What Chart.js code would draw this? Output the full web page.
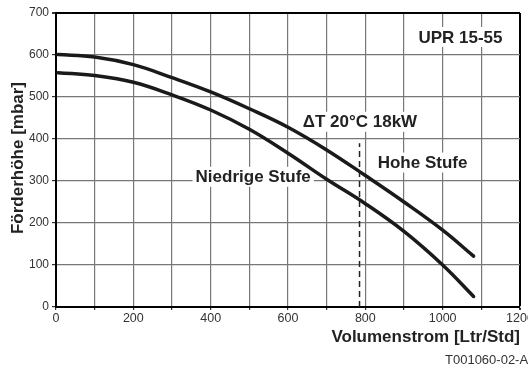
<!DOCTYPE html>
<html>
<head>
<meta charset="utf-8">
<script src="https://cdn.jsdelivr.net/npm/chart.js@4"></script>
<style>
  html, body { margin: 0; padding: 0; background: #fff; }
  #wrap { width: 528px; height: 369px; }
</style>
</head>
<body>
<div id="wrap"><canvas id="pumpChart" width="528" height="369"></canvas></div>
<script>
// flow [Ltr/Std] and head [mbar]
const flowHigh = [5, 100, 200, 300, 400, 500, 600, 700, 800, 900, 1000, 1080];
const headHigh = [601, 595, 577, 546, 512, 472, 428, 374, 313, 250, 183, 121];
const flowLow = [5, 100, 200, 300, 400, 500, 600, 700, 800, 900, 1000, 1080];
const headLow = [558, 551, 535, 505, 469, 423, 366, 304, 246, 180, 100, 25];

// design point marker (dT 20°C 18kW)
const designFlow = 785;
const designHead = [0, 390];

const xTickLabels = [0, 200, 400, 600, 800, 1000, 1200];
const yTickLabels = [0, 100, 200, 300, 400, 500, 600, 700];

// text notes placed in data units
const notes = [
  { text: "UPR 15-55", x: 1046, y: 643 },
  { text: "\u0394T 20\u00b0C 18kW", x: 786, y: 441 },
  { text: "Hohe Stufe", x: 948, y: 344 },
  { text: "Niedrige Stufe", x: 510, y: 310 },
];

const FONT = "'Liberation Sans', Arial, sans-serif";

const notesPlugin = {
  id: "notes",
  beforeDatasetsDraw(chart) {
    const ctx = chart.ctx;
    const xs = chart.scales.x;
    const ys = chart.scales.y;
    ctx.save();
    ctx.font = "bold 17px " + FONT;
    ctx.textAlign = "center";
    ctx.textBaseline = "middle";
    notes.forEach((n) => {
      const px = xs.getPixelForValue(n.x);
      const py = ys.getPixelForValue(n.y);
      const w = ctx.measureText(n.text).width;
      ctx.fillStyle = "#fff";
      ctx.fillRect(px - w / 2 - 3, py - 10, w + 6, 20);
      ctx.fillStyle = "#222";
      ctx.fillText(n.text, px, py + 1);
    });
    ctx.restore();
  },
  afterDraw(chart) {
    const ctx = chart.ctx;
    const area = chart.chartArea;
    ctx.save();
    ctx.fillStyle = "#222";
    ctx.font = "bold 17px " + FONT;
    // x axis title, right aligned to the frame
    ctx.textAlign = "right";
    ctx.textBaseline = "middle";
    ctx.fillText("Volumenstrom [Ltr/Std]", area.right, 337);
    // y axis title, rotated
    ctx.translate(18, (area.top + area.bottom) / 2 - 2);
    ctx.rotate(-Math.PI / 2);
    ctx.textAlign = "center";
    ctx.fillText("Förderhöhe [mbar]", 0, 0);
    ctx.restore();
    // drawing number, bottom right
    ctx.save();
    ctx.font = "13px " + FONT;
    ctx.textAlign = "left";
    ctx.textBaseline = "alphabetic";
    ctx.fillStyle = "#333";
    ctx.fillText("T001060-02-A", 445, 364);
    ctx.restore();
  },
};

const ctx = document.getElementById("pumpChart").getContext("2d");

new Chart(ctx, {
  type: "scatter",
  data: {
    datasets: [
      {
        label: "Hohe Stufe",
        data: flowHigh.map((f, i) => ({ x: f, y: headHigh[i] })),
        showLine: true,
        borderColor: "#1a1a1a",
        borderWidth: 3.5,
        borderCapStyle: "round",
        tension: 0.4,
        pointRadius: 0,
      },
      {
        label: "Niedrige Stufe",
        data: flowLow.map((f, i) => ({ x: f, y: headLow[i] })),
        showLine: true,
        borderColor: "#1a1a1a",
        borderWidth: 3.5,
        borderCapStyle: "round",
        tension: 0.4,
        pointRadius: 0,
      },
      {
        label: "Auslegung",
        data: designHead.map((h) => ({ x: designFlow, y: h })),
        showLine: true,
        borderColor: "#222",
        borderWidth: 1.5,
        borderDash: [6, 4],
        pointRadius: 0,
      },
    ],
  },
  options: {
    responsive: false,
    animation: false,
    devicePixelRatio: 1,
    layout: {
      padding: { top: 13, right: 8, left: 0, bottom: 0 },
    },
    plugins: {
      legend: { display: false },
      tooltip: { enabled: false },
    },
    scales: {
      x: {
        type: "linear",
        min: 0,
        max: 1200,
        afterFit: (scale) => {
          scale.height = 62;
          scale.paddingLeft = 0;
          scale.paddingRight = 0;
        },
        border: { color: "#000", width: 2 },
        grid: {
          color: (c) => (c.tick && c.tick.value === 1200 ? "#000" : "#777"),
          lineWidth: (c) => (c.tick && c.tick.value === 1200 ? 2 : 1.2),
          tickLength: 3,
          tickColor: "#333",
        },
        ticks: {
          stepSize: 100,
          autoSkip: false,
          maxRotation: 0,
          padding: 1,
          color: "#333",
          font: { family: FONT, size: 12.5 },
          callback: (v) => (xTickLabels.includes(v) ? String(v) : ""),
        },
      },
      y: {
        type: "linear",
        min: 0,
        max: 700,
        afterFit: (scale) => {
          scale.width = 56;
          scale.paddingTop = 0;
          scale.paddingBottom = 0;
        },
        border: { color: "#000", width: 2 },
        grid: {
          color: (c) => (c.tick && c.tick.value === 700 ? "#000" : "#777"),
          lineWidth: (c) => (c.tick && c.tick.value === 700 ? 2 : 1.2),
          tickLength: 4,
          tickColor: "#333",
        },
        ticks: {
          stepSize: 100,
          padding: 3,
          color: "#333",
          font: { family: FONT, size: 12 },
          callback: (v) => (yTickLabels.includes(v) ? String(v) : ""),
        },
      },
    },
  },
  plugins: [notesPlugin],
});
</script>
</body>
</html>
